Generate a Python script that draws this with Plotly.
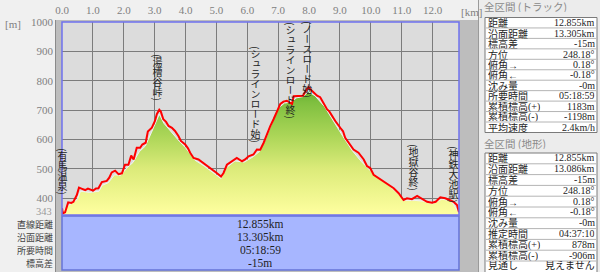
import plotly.graph_objects as go

# ---------------- data ----------------
track_km = [0.00, 0.03, 0.10, 0.20, 0.30, 0.37, 0.48, 0.55, 0.65, 0.75, 0.84, 0.91, 1.01, 1.10, 1.18,
            1.29, 1.45, 1.53, 1.61, 1.72, 1.83, 1.94, 2.04, 2.15, 2.24, 2.32, 2.42, 2.53, 2.60,
            2.71, 2.78, 2.91, 3.01, 3.07, 3.15, 3.20, 3.28, 3.37, 3.45, 3.56, 3.66, 3.77, 3.85,
            3.99, 4.08, 4.15, 4.26, 4.42, 4.58, 4.70, 4.80, 4.90, 5.01, 5.15, 5.23, 5.34, 5.50,
            5.66, 5.83, 5.93, 6.04, 6.20, 6.31, 6.42, 6.53, 6.64, 6.74, 6.85, 6.96, 7.07, 7.17,
            7.28, 7.37, 7.45, 7.50, 7.66, 7.80, 7.88, 7.98, 8.04, 8.13, 8.26, 8.36, 8.47, 8.58,
            8.66, 8.74, 8.85, 9.01, 9.10, 9.17, 9.28, 9.44, 9.60, 9.77, 9.88, 9.98, 10.09, 10.25,
            10.42, 10.58, 10.74, 10.90, 11.01, 11.06, 11.17, 11.33, 11.50, 11.66, 11.82, 11.98,
            12.10, 12.25, 12.41, 12.55, 12.68, 12.79, 12.855]
track_elev = [366, 349, 352, 386, 384, 388, 411, 436, 432, 428, 433, 431, 426, 433, 434,
              455, 459, 470, 488, 494, 482, 485, 514, 514, 545, 532, 572, 572, 583,
              589, 627, 640, 663, 686, 701, 695, 669, 660, 646, 640, 629, 612, 595,
              583, 570, 555, 537, 532, 520, 512, 503, 497, 486, 474, 486, 514, 526,
              537, 526, 532, 543, 549, 566, 565, 589, 620, 645, 669, 698, 721, 729,
              732, 726, 721, 747, 749, 749, 763, 778, 771, 761, 749, 744, 721, 703,
              695, 680, 663, 640, 628, 606, 589, 566, 555, 532, 509, 503, 480, 469,
              457, 446, 434, 417, 400, 394, 400, 397, 408, 397, 388, 385,
              388, 403, 400, 394, 388, 377, 352]

terrain_km = [0.00, 0.20, 0.50, 0.60, 0.90, 1.20, 1.30, 1.50, 1.70, 1.90, 2.10, 2.30, 2.50, 2.70,
              2.90, 3.05, 3.15, 3.30, 3.50, 3.80, 4.00, 4.30, 4.60, 5.00, 5.15, 5.30, 5.60, 5.90,
              6.20, 6.40, 6.60, 6.80, 7.00, 7.20, 7.40, 7.60, 7.80, 7.98, 8.20, 8.50, 8.80, 9.10,
              9.40, 9.70, 10.00, 10.30, 10.60, 10.90, 11.10, 11.40, 11.70, 12.00, 12.30, 12.60,
              12.855]
terrain_elev = [355, 374, 397, 424, 420, 424, 444, 453, 480, 478, 503, 522, 558, 578,
                625, 660, 686, 655, 630, 594, 572, 530, 510, 480, 467, 502, 527, 523,
                542, 560, 603, 657, 706, 724, 727, 742, 746, 763, 748, 712, 660, 610,
                562, 524, 492, 464, 442, 412, 393, 393, 390, 381, 397, 391, 349]

x_ticks = [0, 1, 2, 3, 4, 5, 6, 7, 8, 9, 10, 11, 12]
x_tick_text = ["0.0", "1.0", "2.0", "3.0", "4.0", "5.0", "6.0", "7.0", "8.0", "9.0", "10.0", "11.0", "12.0"]
y_ticks = [343, 400, 500, 600, 700, 800, 900, 1000]

place_names = ["(有馬温泉)", "(湯槽谷峠)", "(シュラインロード始)", "(シュラインロード終)",
               "(ノースロード始)", "(地獄谷終)", "(神鉄大池駅)"]
place_km = [0.0, 3.08, 6.28, 7.39, 7.92, 11.38, 12.68]
place_top = [566, 889, 916, 998, 1000, 583, 576]

panel_labels = ["直線距離", "沿面距離", "所要時間", "標高差"]
panel_values = ["12.855km", "13.305km", "05:18:59", "-15m"]

track_title = "全区間 (トラック)"
track_labels = ["距離", "沿面距離", "標高差", "方位", "俯角→", "俯角←", "沈み量", "所要時間",
                "累積標高(+)", "累積標高(-)", "平均速度"]
track_values = ["12.855km", "13.305km", "-15m", "248.18°", "0.18°", "-0.18°", "-0m", "05:18:59",
                "1183m", "-1198m", "2.4km/h"]
terrain_title = "全区間 (地形)"
terrain_labels = ["距離", "沿面距離", "標高差", "方位", "俯角→", "俯角←", "沈み量", "推定時間",
                  "累積標高(+)", "累積標高(-)", "見通し"]
terrain_values = ["12.855km", "13.086km", "-15m", "248.18°", "0.18°", "-0.18°", "-0m", "04:37:10",
                  "878m", "-906m", "見えません"]

# ---------------- layout helpers ----------------
W, H = 600, 272
L, R, T, B = 62, 459, 22, 215


def px(x):
    return (x - L) / (R - L)


def py(y):
    return (B - y) / (B - T)


SERIF = "Liberation Serif, Noto Sans CJK JP"
CJK = "Noto Sans CJK JP"

fig = go.Figure()

fig.add_trace(go.Scatter(
    x=terrain_km, y=terrain_elev, mode="lines",
    line=dict(color="#f2f2f2", width=1),
    fill="tozeroy",
    fillgradient=dict(type="vertical", start=343, stop=790,
                      colorscale=[[0, "#ffffa0"], [0.35, "#dceb7a"], [0.6, "#acd658"],
                                  [0.85, "#80c040"], [1, "#5caa2a"]]),
    hoverinfo="skip", showlegend=False))

fig.add_trace(go.Scatter(
    x=track_km, y=track_elev, mode="lines",
    line=dict(color="#ff0000", width=2),
    showlegend=False))

shapes = []
# grey frame
shapes.append(dict(type="rect", xref="paper", yref="paper", x0=px(55), x1=px(478), y0=py(272), y1=py(20),
                   fillcolor="#bdbdbd", line=dict(width=0), layer="below"))
shapes.append(dict(type="line", xref="paper", yref="paper", x0=px(55.5), x1=px(55.5), y0=py(272), y1=py(20),
                   line=dict(color="#8a8a8a", width=1), layer="below"))
# plot background
shapes.append(dict(type="rect", xref="paper", yref="paper", x0=0, x1=1, y0=0, y1=1,
                   fillcolor="#dcdcdc", line=dict(width=0), layer="below"))
# bottom blue panel
shapes.append(dict(type="rect", xref="paper", yref="paper", x0=px(62), x1=px(459), y0=py(270), y1=py(216),
                   fillcolor="#a7b6ff", line=dict(color="#6674d8", width=1.5), layer="below"))
# plot border
shapes.append(dict(type="rect", xref="paper", yref="paper", x0=0, x1=1, y0=0, y1=1,
                   line=dict(color="#6f72ee", width=1.5), layer="above"))
# right panel background
shapes.append(dict(type="rect", xref="paper", yref="paper", x0=px(478), x1=px(600), y0=py(272), y1=py(0),
                   fillcolor="#ececec", line=dict(width=0), layer="below"))
shapes.append(dict(type="line", xref="paper", yref="paper", x0=px(478.5), x1=px(478.5), y0=py(272), y1=py(0),
                   line=dict(color="#9a9a9a", width=1), layer="below"))

annotations = []


def table(title, title_y, labels, values, top, step, bottom):
    annotations.append(dict(xref="paper", yref="paper", x=px(482), y=py(title_y), text=title,
                            showarrow=False, xanchor="left", yanchor="middle", height=11,
                            font=dict(family=CJK, size=10.5, color="#8a8a8a")))
    shapes.append(dict(type="rect", xref="paper", yref="paper", x0=px(485), x1=px(597),
                       y0=py(bottom), y1=py(top), fillcolor="#ffffff",
                       line=dict(color="#7a7a7a", width=1), layer="below"))
    for i, (lab, val) in enumerate(zip(labels, values)):
        yc = top + step * (i + 0.5)
        if i > 0:
            ys = top + step * i
            shapes.append(dict(type="line", xref="paper", yref="paper", x0=px(486), x1=px(596),
                               y0=py(ys), y1=py(ys), line=dict(color="#b4b4b4", width=1), layer="below"))
        annotations.append(dict(xref="paper", yref="paper", x=px(487), y=py(yc), text=lab,
                                showarrow=False, xanchor="left", yanchor="middle",
                                height=step - 1, borderpad=0,
                                font=dict(family=SERIF, size=10, color="#1e1e1e")))
        annotations.append(dict(xref="paper", yref="paper", x=px(596), y=py(yc), text=val,
                                showarrow=False, xanchor="right", yanchor="middle",
                                height=step - 1, borderpad=0,
                                font=dict(family=SERIF, size=10, color="#1e1e1e")))


table(track_title, 7, track_labels, track_values, 17.5, 10.45, 132.5)
table(terrain_title, 143, terrain_labels, terrain_values, 153, 10.8, 272.5)

# bottom panel texts
for i, (lab, val) in enumerate(zip(panel_labels, panel_values)):
    yc = 224 + 13 * i
    annotations.append(dict(xref="paper", yref="paper", x=px(54), y=py(yc), text=lab,
                            showarrow=False, xanchor="right", yanchor="middle", height=12, borderpad=0,
                            font=dict(family=CJK, size=9, color="#444444")))
    annotations.append(dict(xref="paper", yref="paper", x=px(260), y=py(yc), text=val,
                            showarrow=False, xanchor="center", yanchor="middle", height=12, borderpad=0,
                            font=dict(family=SERIF, size=11.5, color="#1e1e1e")))

# 343 label (placed slightly above the axis bottom so it clears the panel labels)
annotations.append(dict(xref="paper", yref="y", x=px(53), y=y_ticks[0], yshift=4, text=str(y_ticks[0]),
                        showarrow=False, xanchor="right", yanchor="middle", height=9, borderpad=0,
                        font=dict(family=SERIF, size=10.5, color="#9a9a9a")))

# unit labels
annotations.append(dict(xref="paper", yref="paper", x=px(3), y=py(24), text="[m]", showarrow=False,
                        xanchor="left", yanchor="middle", font=dict(family=SERIF, size=11, color="#808080")))
annotations.append(dict(xref="paper", yref="paper", x=px(459), y=py(11.5), text="[km]", showarrow=False,
                        xanchor="left", yanchor="middle", font=dict(family=SERIF, size=11, color="#808080")))

# vertical place-name labels (one text each; switched to vertical writing after render)
for name, km, top in zip(place_names, place_km, place_top):
    annotations.append(dict(xref="x", yref="y", x=km, y=top, text=name, yshift=2,
                            showarrow=False, xanchor="center", yanchor="top", borderpad=0,
                            font=dict(family=CJK, size=10, color="#222222")))

fig.update_layout(
    width=W, height=H,
    margin=dict(l=L, r=W - R, t=T, b=H - B, pad=0, autoexpand=False),
    paper_bgcolor="#f0f0f0",
    plot_bgcolor="rgba(0,0,0,0)",
    shapes=shapes,
    annotations=annotations,
    xaxis=dict(range=[0, 12.855], side="top", tickvals=x_ticks, ticktext=x_tick_text,
               showgrid=True, gridcolor="#7c7c7c", gridwidth=1, zeroline=False, showline=False,
               ticks="", ticklabelstandoff=5, automargin=False,
               tickfont=dict(family=SERIF, size=11, color="#808080"), fixedrange=True),
    yaxis=dict(range=[343, 1000], tickvals=y_ticks,
               ticktext=[""] + [str(v) for v in y_ticks[1:]],
               showgrid=True, gridcolor="#7c7c7c", gridwidth=1, zeroline=False, showline=False,
               ticks="", ticklabelstandoff=8, automargin=False,
               tickfont=dict(family=SERIF, size=11, color="#808080"), fixedrange=True),
    showlegend=False,
)

vertical_js = """
var gd = document.getElementById('{plot_id}');
var names = %s;
gd.querySelectorAll('text.annotation-text').forEach(function (t) {
  var s = t.getAttribute('data-unformatted') || t.textContent;
  if (names.indexOf(s) < 0) { return; }
  var bb = t.getBBox();
  var cx = bb.x + bb.width / 2, top = bb.y;
  t.style.writingMode = 'vertical-rl';
  t.style.textAnchor = 'start';
  t.setAttribute('text-anchor', 'start');
  t.setAttribute('x', cx);
  t.setAttribute('y', top);
  t.querySelectorAll('tspan').forEach(function (sp) {
    sp.setAttribute('x', cx); sp.setAttribute('y', top); sp.removeAttribute('dy');
  });
});
""" % ("[" + ",".join('"%s"' % n for n in place_names) + "]")

fig.write_html("out.html", post_script=vertical_js)
